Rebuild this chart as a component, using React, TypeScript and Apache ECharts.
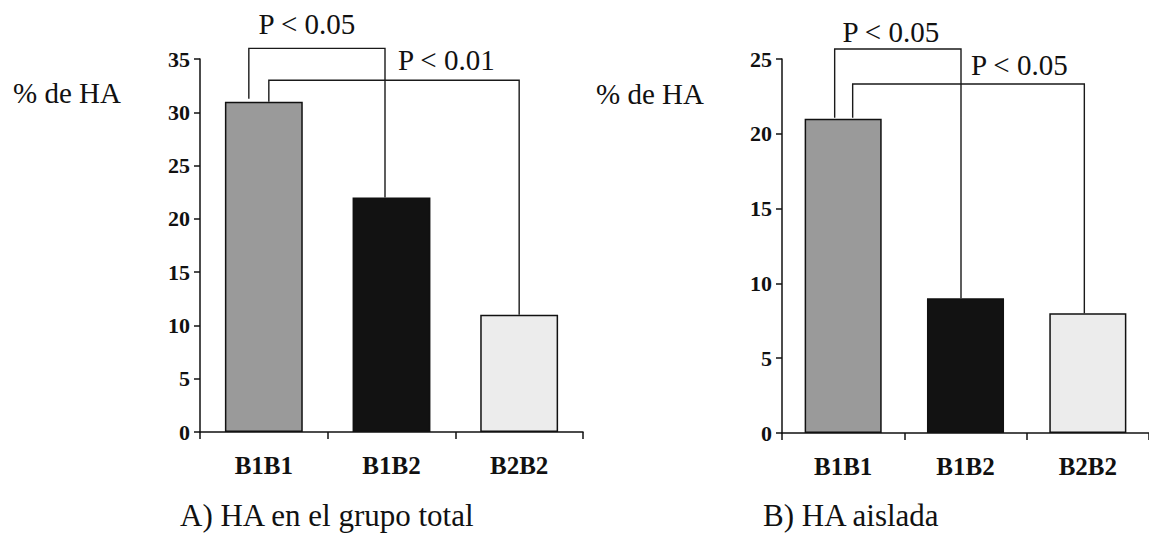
import React, { useEffect, useRef } from "react";
import * as echarts from "echarts";

// ---- data ----
const categories = ["B1B1", "B1B2", "B2B2"];
const totalValues = [31, 22, 11];
const isolatedValues = [21, 9, 8];
const barColors = ["#9a9a9a", "#121212", "#ececec"];
const totalAxisMax = 35;
const isolatedAxisMax = 25;
const tickInterval = 5;
const yAxisTitle = "% de HA";
const totalSubtitle = "A) HA en el grupo total";
const isolatedSubtitle = "B) HA aislada";
// significance brackets: [fromCategory, toCategory, bracketHeight]
const totalBrackets = [
  [0, 1, 36],
  [0, 2, 33],
];
const totalBracketLabels = ["P < 0.05", "P < 0.01"];
const isolatedBrackets = [
  [0, 1, 25.67],
  [0, 2, 23.33],
];
const isolatedBracketLabels = ["P < 0.05", "P < 0.05"];

// ---- layout (pixel offsets, not data) ----
const totalLegLayout = [
  { dl: -15, dr: -6.5, gapL: 3, ref: "mid", dx: -10, dy: -24, align: "center" },
  { dl: 5, dr: 0, gapL: 0, ref: "cat1", dx: 6.5, dy: -20, align: "left" },
];
const isolatedLegLayout = [
  { dl: -8.5, dr: -4.5, gapL: 1, ref: "mid", dx: -7, dy: -17, align: "center" },
  { dl: 9.5, dr: -3.5, gapL: 1, ref: "cat1", dx: 5.5, dy: -19, align: "left" },
];

const SERIF = '"Liberation Serif", "Times New Roman", serif';
const BOLD_SERIF = '"Liberation Serif", "DejaVu Serif", serif';

function makeBracketSeries(
  brackets: number[][],
  labels: string[],
  values: number[],
  layout: any[],
  axisIndex: number
) {
  return {
    type: "custom",
    xAxisIndex: axisIndex,
    yAxisIndex: axisIndex,
    clip: false,
    silent: true,
    z: 5,
    encode: { x: 0, y: 2 },
    data: brackets.map((b) => [b[0], b[1], b[2], values[b[0]], values[b[1]]]),
    renderItem: (params: any, api: any) => {
      const i = params.dataIndex;
      const from = api.value(0);
      const to = api.value(1);
      const h = api.value(2);
      const baseL = api.value(3);
      const baseR = api.value(4);
      const L = layout[i];
      const top = api.coord([from, h]);
      const cL = api.coord([from, baseL]);
      const cR = api.coord([to, baseR]);
      const c1 = api.coord([1, h]);
      const xl = cL[0] + L.dl;
      const xr = cR[0] + L.dr;
      const yTop = top[1];
      let lx: number;
      if (L.ref === "mid") lx = (xl + xr) / 2 + L.dx;
      else lx = c1[0] + L.dx;
      return {
        type: "group",
        children: [
          {
            type: "polyline",
            shape: {
              points: [
                [xl, cL[1] - L.gapL],
                [xl, yTop],
                [xr, yTop],
                [xr, cR[1]],
              ],
            },
            style: { stroke: "#1a1a1a", lineWidth: 1.4, fill: null },
          },
          {
            type: "text",
            style: {
              text: labels[i],
              x: lx,
              y: yTop + L.dy,
              align: L.align,
              verticalAlign: "middle",
              fontFamily: SERIF,
              fontSize: 29,
              fill: "#111",
            },
          },
        ],
      };
    },
  };
}

function yAxisCfg(gridIndex: number, max: number) {
  return {
    type: "value",
    gridIndex,
    min: 0,
    max,
    interval: tickInterval,
    axisLine: { show: true, lineStyle: { color: "#111", width: 1.5 } },
    axisTick: { show: true, length: 6, lineStyle: { color: "#111", width: 1.5 } },
    splitLine: { show: false },
    axisLabel: {
      color: "#111",
      fontFamily: BOLD_SERIF,
      fontWeight: "bold",
      fontSize: 22,
      margin: 10,
    },
  };
}

function xAxisCfg(gridIndex: number) {
  return {
    type: "category",
    gridIndex,
    data: categories,
    axisLine: { show: true, lineStyle: { color: "#111", width: 1.5 } },
    axisTick: { show: true, length: 7, alignWithLabel: false, lineStyle: { color: "#111", width: 1.5 } },
    axisLabel: {
      color: "#111",
      fontFamily: BOLD_SERIF,
      fontWeight: "bold",
      fontSize: 25,
      margin: 21,
    },
  };
}

function barSeries(values: number[], axisIndex: number, width: string) {
  return {
    type: "bar",
    xAxisIndex: axisIndex,
    yAxisIndex: axisIndex,
    barWidth: width,
    data: values.map((v, i) => ({
      value: v,
      itemStyle: { color: barColors[i], borderColor: "#111", borderWidth: 1.5 },
    })),
  };
}

export default function App() {
  const ref = useRef<HTMLDivElement>(null);
  useEffect(() => {
    if (!ref.current) return;
    const chart = echarts.init(ref.current, undefined, { renderer: "svg" });
    chart.setOption({
      animation: false,
      backgroundColor: "#ffffff",
      grid: [
        { left: 200, top: 59, width: 383, height: 373 },
        { left: 782, top: 59, width: 375, height: 374 },
      ],
      xAxis: [xAxisCfg(0), xAxisCfg(1)],
      yAxis: [yAxisCfg(0, totalAxisMax), yAxisCfg(1, isolatedAxisMax)],
      series: [
        barSeries(totalValues, 0, "61%"),
        barSeries(isolatedValues, 1, "63%"),
        makeBracketSeries(totalBrackets, totalBracketLabels, totalValues, totalLegLayout, 0),
        makeBracketSeries(isolatedBrackets, isolatedBracketLabels, isolatedValues, isolatedLegLayout, 1),
      ],
      graphic: [
        {
          type: "text",
          left: 13,
          top: 78,
          style: { text: yAxisTitle, fontFamily: SERIF, fontSize: 29, fill: "#111" },
        },
        {
          type: "text",
          left: 596,
          top: 79,
          style: { text: yAxisTitle, fontFamily: SERIF, fontSize: 29, fill: "#111" },
        },
        {
          type: "text",
          left: 180,
          top: 500,
          style: { text: totalSubtitle, fontFamily: SERIF, fontSize: 31, fill: "#111" },
        },
        {
          type: "text",
          left: 763,
          top: 500,
          style: { text: isolatedSubtitle, fontFamily: SERIF, fontSize: 31, fill: "#111" },
        },
      ],
    });
    return () => chart.dispose();
  }, []);
  return (
    <div
      ref={ref}
      style={{ position: "fixed", left: 0, top: 0, width: 1149, height: 534, background: "#fff" }}
    />
  );
}
